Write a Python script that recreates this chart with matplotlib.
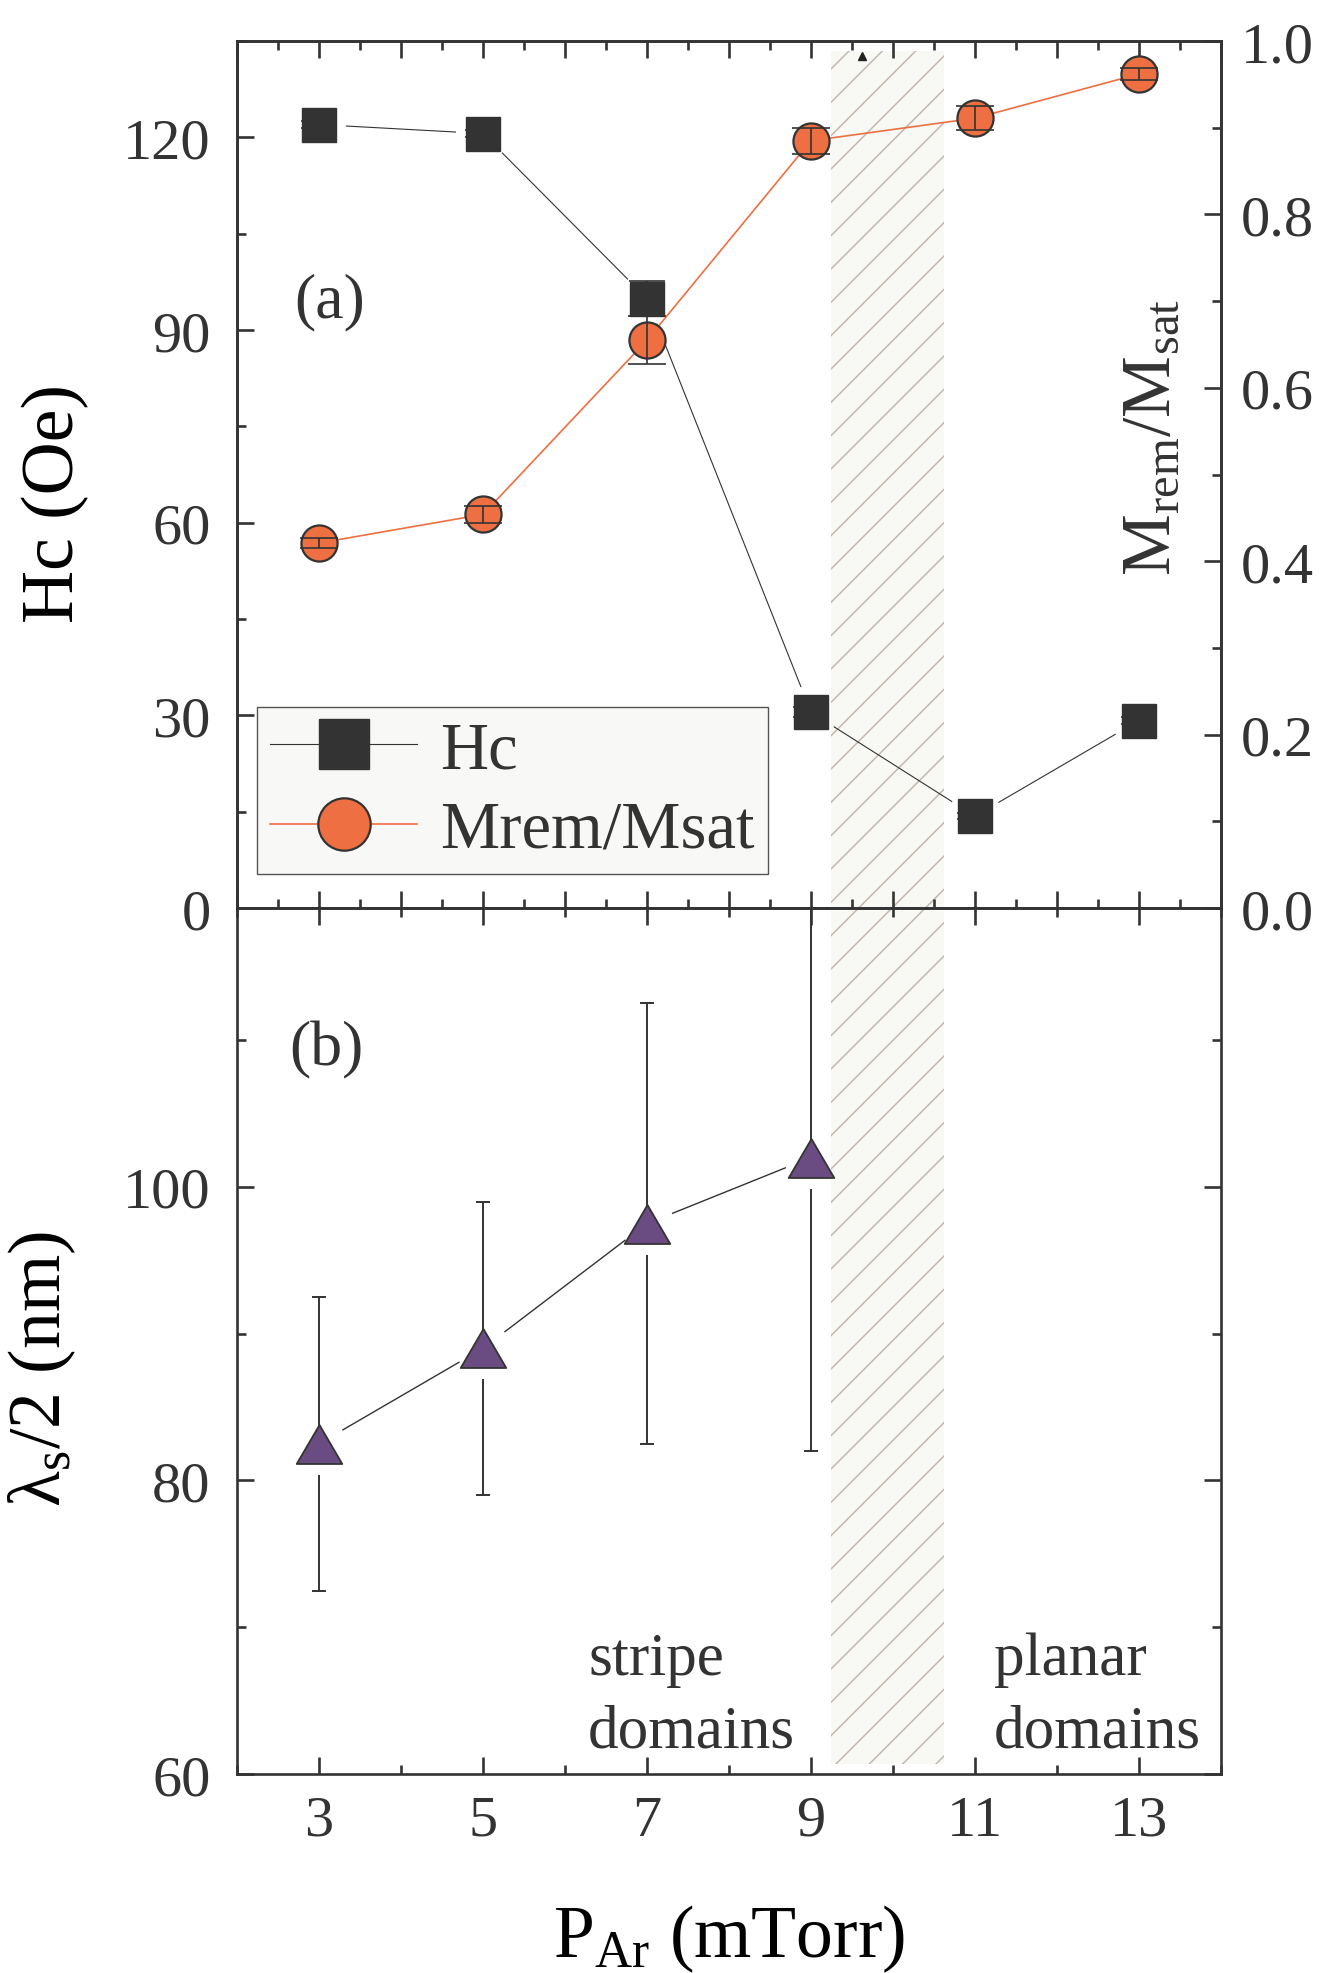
import numpy as np
import matplotlib
matplotlib.use("Agg")
import matplotlib.pyplot as plt
from matplotlib.ticker import MultipleLocator, FixedLocator, FormatStrFormatter
from matplotlib.collections import LineCollection
from matplotlib.lines import Line2D

# ---------------- data ----------------
pressure = [3, 5, 7, 9, 11, 13]
hc = [122.0, 120.6, 94.9, 30.5, 14.3, 29.2]
hc_err = [0.5, 0.5, 2.7, 0.8, 0.5, 0.5]
mrem = [0.421, 0.454, 0.655, 0.885, 0.911, 0.962]
mrem_err = [0.006, 0.010, 0.028, 0.015, 0.014, 0.007]
lam_p = [3, 5, 7, 9]
lam = [82.5, 89.0, 97.5, 102.0]
lam_err = [10.0, 10.0, 15.0, 20.0]
transition = [9.25, 10.62]
stray_x = [9.62]
stray_y = [132.7]
x_major = [3, 5, 7, 9, 11, 13]
hc_ticks = [0, 30, 60, 90, 120]
mrem_ticks = [0.0, 0.2, 0.4, 0.6, 0.8, 1.0]
lam_ticks = [60, 80, 100]

DARK = "#333333"
ORANGE = "#EE6F42"
PURPLE = "#6B4C82"
HATCH_BG = "#f8f8f5"
HATCH_C = "#c4b9b0"

plt.rcParams["font.family"] = ["Liberation Serif", "DejaVu Serif"]
plt.rcParams["mathtext.fontset"] = "custom"
plt.rcParams["mathtext.rm"] = "Liberation Serif"
plt.rcParams["mathtext.it"] = "Liberation Serif:italic"
plt.rcParams["mathtext.bf"] = "Liberation Serif:bold"
plt.rcParams["text.color"] = DARK
plt.rcParams["axes.edgecolor"] = DARK
plt.rcParams["xtick.color"] = DARK
plt.rcParams["ytick.color"] = DARK
plt.rcParams["hatch.linewidth"] = 1.1

TICK_FS = 42
LABEL_FS = 53

fig = plt.figure(figsize=(13.2, 19.74), dpi=100)
ax1 = fig.add_axes([0.1795, 0.5395, 0.7455, 0.4392])
ax2 = fig.add_axes([0.1795, 0.1008, 0.7455, 0.4387])
ax1b = ax1.twinx()

for ax in (ax1, ax2, ax1b):
    for s in ax.spines.values():
        s.set_linewidth(1.9)
        s.set_color(DARK)

# ---------- limits & ticks ----------
ax1.set_xlim(2, 14)
ax1.set_ylim(0, 135)
ax1b.set_ylim(0, 1.0)
ax2.set_xlim(2, 14)
ax2.set_ylim(60, 119)

ax1.xaxis.set_major_locator(MultipleLocator(1))
ax1.xaxis.set_minor_locator(MultipleLocator(0.5))
ax1.yaxis.set_major_locator(FixedLocator(hc_ticks))
ax1.yaxis.set_minor_locator(MultipleLocator(15))
ax1.tick_params(axis="x", which="both", direction="in", top=True, bottom=True,
                labelbottom=False)
ax1.tick_params(axis="y", which="both", direction="in", left=True, right=False,
                labelsize=TICK_FS, pad=19)
ax1b.yaxis.set_major_locator(FixedLocator(mrem_ticks))
ax1b.yaxis.set_minor_locator(MultipleLocator(0.1))
ax1b.yaxis.set_major_formatter(FormatStrFormatter("%.1f"))
ax1b.tick_params(axis="y", which="both", direction="in", right=True, left=False,
                 labelsize=TICK_FS, pad=14)

ax2.xaxis.set_major_locator(FixedLocator(x_major))
ax2.xaxis.set_minor_locator(MultipleLocator(1))
ax2.yaxis.set_major_locator(FixedLocator(lam_ticks))
ax2.yaxis.set_minor_locator(MultipleLocator(10))
ax2.tick_params(axis="x", which="both", direction="in", top=True, bottom=True,
                labelsize=TICK_FS, pad=15)
ax2.tick_params(axis="y", which="both", direction="in", left=True, right=True,
                labelsize=TICK_FS, pad=19)

for ax in (ax1, ax2, ax1b):
    ax.tick_params(which="major", length=12, width=1.9)
    ax.tick_params(which="minor", length=6.5, width=1.9)

# ---------- hatched transition region ----------
ax1.axvspan(transition[0], transition[1], ymin=0, ymax=1 - 10 / 867,
            facecolor=HATCH_BG, edgecolor=HATCH_C, hatch="/", linewidth=0, zorder=0)
ax2.axvspan(transition[0], transition[1], ymin=10 / 866, ymax=1,
            facecolor=HATCH_BG, edgecolor=HATCH_C, hatch="/", linewidth=0, zorder=0)


def gapped(ax, xs, ys, gap):
    pts = ax.transData.transform(np.column_stack([xs, ys]))
    inv = ax.transData.inverted()
    segs = []
    for p, q in zip(pts[:-1], pts[1:]):
        d = q - p
        u = d / np.hypot(*d)
        segs.append(inv.transform(np.array([p + u * gap, q - u * gap])))
    return segs


# ---------- panel (a): Hc ----------
ax1.add_collection(LineCollection(gapped(ax1, pressure, hc, 27), colors=DARK,
                                  linewidths=0.8, zorder=2))
ax1.errorbar(pressure, hc, yerr=hc_err, fmt="none", ecolor=DARK, elinewidth=1.2,
             capsize=13, capthick=1.2, zorder=2)
ax1.plot(pressure, hc, ls="none", marker="s", ms=24.5, mfc=DARK, mec=DARK,
         mew=1, zorder=3)
ax1.plot(stray_x, stray_y, ls="none", marker="^", ms=6, color="#222222", zorder=3)

# ---------- panel (a): Mrem/Msat ----------
ax1b.plot(pressure, mrem, color=ORANGE, lw=1.2, marker="o", ms=26, mfc=ORANGE,
          mec=DARK, mew=1.6, zorder=3)
ax1b.errorbar(pressure, mrem, yerr=mrem_err, fmt="none", ecolor=DARK,
              elinewidth=1.2, capsize=13.7, capthick=1.2, zorder=4)

handles = [
    Line2D([], [], color=DARK, lw=0.8, marker="s", ms=24.5, mfc=DARK, mec=DARK),
    Line2D([], [], color=ORANGE, lw=1.2, marker="o", ms=26, mfc=ORANGE, mec=DARK,
           mew=1.6),
]
leg = ax1b.legend(handles, ["Hc", "Mrem/Msat"], loc="lower left",
                  bbox_to_anchor=(0.0203, 0.039), fontsize=48, markerscale=1.45,
                  handlelength=2.2, handletextpad=0.35, labelspacing=0.28,
                  borderpad=0.2, borderaxespad=0, frameon=True, fancybox=False,
                  edgecolor="#555555", facecolor="#f8f8f6", framealpha=1)
leg.get_frame().set_linewidth(1.0)
for t in leg.get_texts():
    t.set_color(DARK)

ax1.text(0.0945, 0.700, "(a)", transform=ax1.transAxes, fontsize=46,
         ha="center", va="center")

ax1.set_ylabel("Hc (Oe)", fontsize=LABEL_FS)
ax1.yaxis.set_label_coords(-0.150, 0.468)
ax1b.text(0.931, 0.544, r"M$_\mathrm{rem}$/M$_\mathrm{sat}$", transform=ax1b.transAxes,
          fontsize=50, rotation=90, ha="center", va="center")

# ---------- panel (b): stripe period ----------
ax2.add_collection(LineCollection(gapped(ax2, lam_p, lam, 27), colors=DARK,
                                  linewidths=1.0, zorder=2))
inv2 = ax2.transData.inverted()
err_segs = []
for x, y, e in zip(lam_p, lam, lam_err):
    px, py = ax2.transData.transform((x, y))
    y_low = inv2.transform((px, py - 31))[1]
    err_segs.append([(x, y), (x, y + e)])
    err_segs.append([(x, y_low), (x, y - e)])
ax2.add_collection(LineCollection(err_segs, colors=DARK, linewidths=1.4, zorder=2))
ax2.plot(lam_p, np.add(lam, lam_err), ls="none", marker="_", ms=9.7, mew=1.4,
         color=DARK, zorder=2)
ax2.plot(lam_p, np.subtract(lam, lam_err), ls="none", marker="_", ms=9.7, mew=1.4,
         color=DARK, zorder=2)
tri = [(0, 0.855), (-1, -0.855), (1, -0.855), (0, 0.855)]
ax2.plot(lam_p, lam, ls="none", marker=tri, ms=32.8, mfc=PURPLE, mec=DARK,
         mew=1.3, zorder=4)

ax2.text(0.091, 0.837, "(b)", transform=ax2.transAxes, fontsize=46,
         ha="center", va="center")
ax2.text(0.357, 0.164, "stripe\ndomains", transform=ax2.transAxes, fontsize=44,
         ha="left", va="top", linespacing=1.38)
ax2.text(0.769, 0.164, "planar\ndomains", transform=ax2.transAxes, fontsize=44,
         ha="left", va="top", linespacing=1.38)

ax2.set_ylabel(r"λ$_\mathrm{s}$/2 (nm)", fontsize=LABEL_FS)
ax2.yaxis.set_label_coords(-0.162, 0.469)
ax2.set_xlabel(r"P$_\mathrm{Ar}$ (mTorr)", fontsize=LABEL_FS, labelpad=40)

fig.savefig("out.png", dpi=100)
